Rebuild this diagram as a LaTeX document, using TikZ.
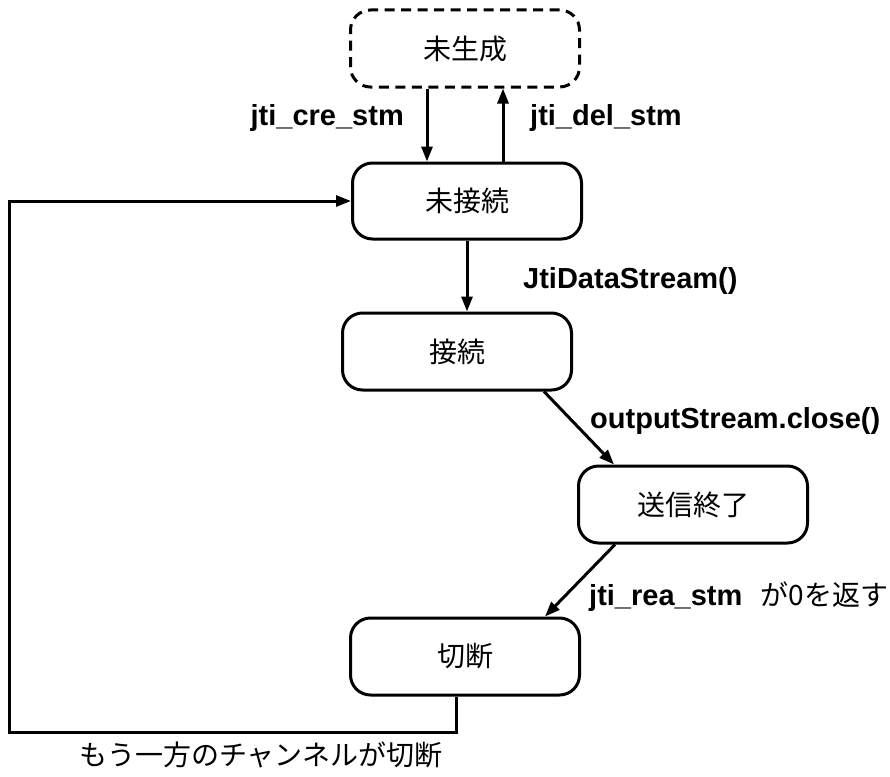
\documentclass[tikz,border=0pt]{standalone}
\usepackage{fontspec}
\setmainfont{Liberation Sans}
\newfontfamily\jp{Noto Sans CJK JP}
\usetikzlibrary{arrows.meta}
\begin{document}
\begin{tikzpicture}[x=1pt,y=-1pt,
  statebox/.style={draw, line width=3pt, rounded corners=20pt, align=center,
    inner sep=0pt, minimum width=229pt, minimum height=77pt,
    font=\jp\fontsize{28}{32}\selectfont},
  lbl/.style={inner sep=0pt, font=\bfseries\fontsize{29}{33}\selectfont},
  arr/.style={line width=3pt, -{Triangle[length=15pt,width=11pt]}},
]
\useasboundingbox (0,0) rectangle (890,776);
\node[statebox, dashed, dash pattern=on 10pt off 6.5pt] (n0) at (465,48.5) {未生成};
\node[statebox, minimum height=76pt] (n1) at (467,201) {未接続};
\node[statebox] (n2) at (457,351.5) {接続};
\node[statebox] (n3) at (693,504.5) {送信終了};
\node[statebox] (n4) at (465,656.5) {切断};

\draw[arr] ([xshift=-38pt]n0.south) -- ([xshift=-38pt]n0.south |- n1.north);
\draw[arr] ([xshift=36pt]n1.north) -- ([xshift=36pt]n1.north |- n0.south);
\draw[arr] (n1.south) -- (n1.south |- n2.north);
\draw[arr] ([xshift=-29pt]n2.south east) -- ([xshift=37pt]n3.north west);
\draw[arr] ([xshift=38pt]n3.south west) -- ([xshift=-36pt]n4.north east);
\coordinate (c1) at (9,732);
\draw[arr] ([xshift=-9pt]n4.south) |- (c1) |- (n1.west);

\node[lbl, anchor=base east] (l1) at (404,125) {jti\_cre\_stm};
\node[lbl, anchor=base west] (l2) at (530,125) {jti\_del\_stm};
\node[lbl, anchor=base west] (l3) at (523,288) {JtiDataStream()};
\node[lbl, anchor=base west] (l4) at (590,428) {outputStream.close()};
\node[lbl, anchor=base west] (l5) at (589,605) {\makebox[299pt][l]{jti\_rea\_stm\hfill{\mdseries\jp\fontsize{28}{32}\selectfont が0を返す}}};
\node[inner sep=0pt, font=\jp\fontsize{28}{32}\selectfont] (l6) at (261,755) {もう一方のチャンネルが切断};
\end{tikzpicture}
\end{document}
